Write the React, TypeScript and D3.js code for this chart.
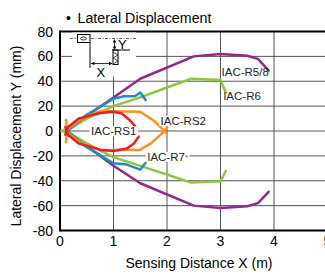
import React, { useEffect, useRef } from 'react';
import * as d3 from 'd3';

const xTicks = [0, 1, 2, 3, 4, 5];
const yTicks = [80, 60, 40, 20, 0, -20, -40, -60, -80];

// IAC-R5/8 (purple)
const r58Upper = [[0.12, 0], [0.5, 12], [1, 27], [1.5, 42], [2.5, 60], [3, 62], [3.5, 60.5], [3.7, 58], [3.9, 48.5]];
const r58Lower = [[0.12, 0], [0.5, -12], [1, -28], [1.5, -42], [2.5, -60], [3, -62], [3.5, -60.5], [3.7, -58], [3.9, -49]];
// IAC-R6 (green)
const r6Upper = [[0.03, 0], [0.15, 1], [0.5, 10], [1, 20], [1.5, 27], [2, 35], [2.45, 42], [3, 41], [3.1, 31]];
const r6Lower = [[0.03, 0], [0.15, -1], [0.5, -10], [1, -21], [1.5, -28], [2, -35], [2.45, -41.5], [3, -40.5], [3.1, -32]];
// IAC-R7 (blue)
const r7Upper = [[0.15, -4], [0.14, 0], [0.5, 13], [1, 26], [1.2, 28], [1.4, 28], [1.5, 31], [1.6, 25]];
const r7Lower = [[0.15, 4], [0.14, 0], [0.5, -13], [1, -26], [1.25, -27], [1.5, -31], [1.6, -25.5]];
// IAC-RS2 (orange)
const rs2Upper = [[0.11, 9], [0.13, 1], [0.4, 10], [0.75, 16], [1.5, 15.5], [1.75, 8.5], [2.0, -2]];
const rs2Lower = [[0.11, -9], [0.13, -1], [0.4, -10], [0.75, -15.5], [1.5, -15], [1.7, -10], [1.93, -1], [2.0, 3]];
// IAC-RS1 (red)
const rs1Upper = [[0.1, -3], [0.15, 3], [0.35, 10], [0.75, 14.5], [1, 15.5], [1.16, 14], [1.31, 8.5], [1.42, 3]];
const rs1Lower = [[0.1, 3], [0.15, -3], [0.35, -10], [0.75, -15], [1, -16], [1.25, -14], [1.38, -10], [1.47, -4.5]];

const series = [
  { data: [r58Upper, r58Lower], color: '#92278f' },
  { data: [r6Upper, r6Lower], color: '#8cc63e' },
  { data: [r7Upper, r7Lower], color: '#1e8fb5' },
  { data: [rs2Upper, rs2Lower], color: '#f7931e' },
  { data: [rs1Upper, rs1Lower], color: '#ec1c24' },
];

const labels = [
  { text: 'IAC-R5/8', x: 3.02, y: 44, bg: false },
  { text: 'IAC-R6', x: 3.05, y: 25, bg: false },
  { text: 'IAC-RS2', x: 1.88, y: 5, bg: true },
  { text: 'IAC-RS1', x: 0.58, y: -3.5, bg: true },
  { text: 'IAC-R7', x: 1.63, y: -24, bg: true },
];

function App() {
  const ref = useRef(null);
  const width = 325;
  const height = 274;

  useEffect(() => {
    const svg = d3.select(ref.current);
    svg.selectAll('*').remove();

    const x = d3.scaleLinear().domain([0, 5]).range([60, 327.5]);
    const y = d3.scaleLinear().domain([-80, 80]).range([230.5, 31.5]);
    const font = 'Liberation Sans, Arial, sans-serif';

    // title
    svg.append('text').attr('x', 66).attr('y', 23).attr('font-family', font)
      .attr('font-size', 14).text('•');
    svg.append('text').attr('x', 77.5).attr('y', 23).attr('font-family', font)
      .attr('font-size', 14).attr('textLength', 134).attr('lengthAdjust', 'spacingAndGlyphs')
      .text('Lateral Displacement');

    // grid
    const grid = svg.append('g').attr('stroke', '#555').attr('stroke-width', 1);
    yTicks.filter(d => d > -80 && d < 80).forEach(d => {
      grid.append('line').attr('x1', x(0)).attr('x2', width).attr('y1', y(d)).attr('y2', y(d));
    });
    xTicks.filter(d => d > 0).forEach(d => {
      grid.append('line').attr('x1', x(d)).attr('x2', x(d)).attr('y1', y(80)).attr('y2', y(-80));
    });

    // frame
    const frame = svg.append('g').attr('stroke', '#000').attr('stroke-width', 2);
    frame.append('line').attr('x1', x(0)).attr('x2', width).attr('y1', y(80)).attr('y2', y(80));
    frame.append('line').attr('x1', x(0)).attr('x2', width).attr('y1', y(-80)).attr('y2', y(-80));
    frame.append('line').attr('x1', x(0)).attr('x2', x(0)).attr('y1', y(80) - 1).attr('y2', y(-80) + 1);

    // tick labels
    svg.append('g').selectAll('text').data(yTicks).join('text')
      .attr('x', 53).attr('y', d => y(d) + 5).attr('text-anchor', 'end')
      .attr('font-family', font).attr('font-size', 14).text(d => d);
    svg.append('g').selectAll('text').data(xTicks).join('text')
      .attr('x', d => x(d)).attr('y', 246).attr('text-anchor', 'middle')
      .attr('font-family', font).attr('font-size', 14).text(d => d);

    // axis titles
    svg.append('text').attr('x', 199).attr('y', 268).attr('text-anchor', 'middle')
      .attr('font-family', font).attr('font-size', 14).text('Sensing Distance X (m)');
    svg.append('text').attr('transform', 'translate(20.5,136) rotate(-90)').attr('text-anchor', 'middle')
      .attr('font-family', font).attr('font-size', 14).text('Lateral Displacement Y (mm)');

    // inset diagram
    const ins = svg.append('g');
    ins.append('rect').attr('x', 72).attr('y', 32.5).attr('width', 64).attr('height', 44).attr('fill', '#fff');
    ins.append('line').attr('x1', 70).attr('x2', 136).attr('y1', 38.5).attr('y2', 38.5)
      .attr('stroke', '#333').attr('stroke-width', 0.8).attr('stroke-dasharray', '3,1.5,1,1.5');
    ins.append('rect').attr('x', 77.5).attr('y', 34.5).attr('width', 12.5).attr('height', 8)
      .attr('fill', '#fff').attr('stroke', '#000').attr('stroke-width', 1);
    ins.append('ellipse').attr('cx', 83.5).attr('cy', 38.5).attr('rx', 3).attr('ry', 1.5)
      .attr('fill', 'none').attr('stroke', '#000').attr('stroke-width', 0.8);
    ins.append('line').attr('x1', 90).attr('x2', 90).attr('y1', 42.5).attr('y2', 68)
      .attr('stroke', '#000').attr('stroke-width', 1);
    ins.append('rect').attr('x', 113).attr('y', 50).attr('width', 5).attr('height', 14.5)
      .attr('fill', '#fff').attr('stroke', '#000').attr('stroke-width', 1);
    ins.append('path').attr('d', 'M113,52 L118,55 L113,58 L118,61 L113,64')
      .attr('fill', 'none').attr('stroke', '#000').attr('stroke-width', 0.7);
    ins.append('line').attr('x1', 112).attr('x2', 130).attr('y1', 50).attr('y2', 50)
      .attr('stroke', '#000').attr('stroke-width', 1);
    // arrows
    ins.append('line').attr('x1', 114.5).attr('x2', 114.5).attr('y1', 40).attr('y2', 49)
      .attr('stroke', '#000').attr('stroke-width', 0.8);
    ins.append('path').attr('d', 'M112.8,42.5 L114.5,39 L116.2,42.5 Z M112.8,46.5 L114.5,50 L116.2,46.5 Z').attr('fill', '#000');
    ins.append('line').attr('x1', 91).attr('x2', 112).attr('y1', 63.5).attr('y2', 63.5)
      .attr('stroke', '#000').attr('stroke-width', 0.8);
    ins.append('path').attr('d', 'M94.5,61.8 L91,63.5 L94.5,65.2 Z M109,61.8 L112.5,63.5 L109,65.2 Z').attr('fill', '#000');
    ins.append('text').attr('x', 118).attr('y', 48.5).attr('font-family', font).attr('font-size', 13).text('Y');
    ins.append('text').attr('x', 96.5).attr('y', 77).attr('font-family', font).attr('font-size', 13).text('X');

    // curves
    const line = d3.line().x(d => x(d[0])).y(d => y(d[1]));
    series.forEach(s => {
      s.data.forEach(pts => {
        svg.append('path').datum(pts).attr('d', line)
          .attr('fill', 'none').attr('stroke', s.color).attr('stroke-width', 2.5)
          .attr('stroke-linejoin', 'round').attr('stroke-linecap', 'round');
      });
    });

    // labels
    labels.forEach(l => {
      const g = svg.append('g');
      const t = g.append('text').attr('x', x(l.x)).attr('y', y(l.y)).attr('font-family', font)
        .attr('font-size', 11.5).attr('fill', '#222').text(l.text);
      if (l.text === 'IAC-R7') {
        t.append('tspan').attr('font-size', 8).attr('dy', -1).attr('fill', '#555').text('*');
      }
      if (l.bg) {
        const b = t.node().getBBox();
        g.insert('rect', 'text').attr('x', b.x - 1.5).attr('y', b.y + 1).attr('width', b.width + 3)
          .attr('height', b.height - 2).attr('fill', '#fff');
      }
    });
  }, []);

  return (
    <svg ref={ref} width={width} height={height}
      style={{ position: 'absolute', left: 0, top: 0, background: '#fff' }} />
  );
}

export default App;
